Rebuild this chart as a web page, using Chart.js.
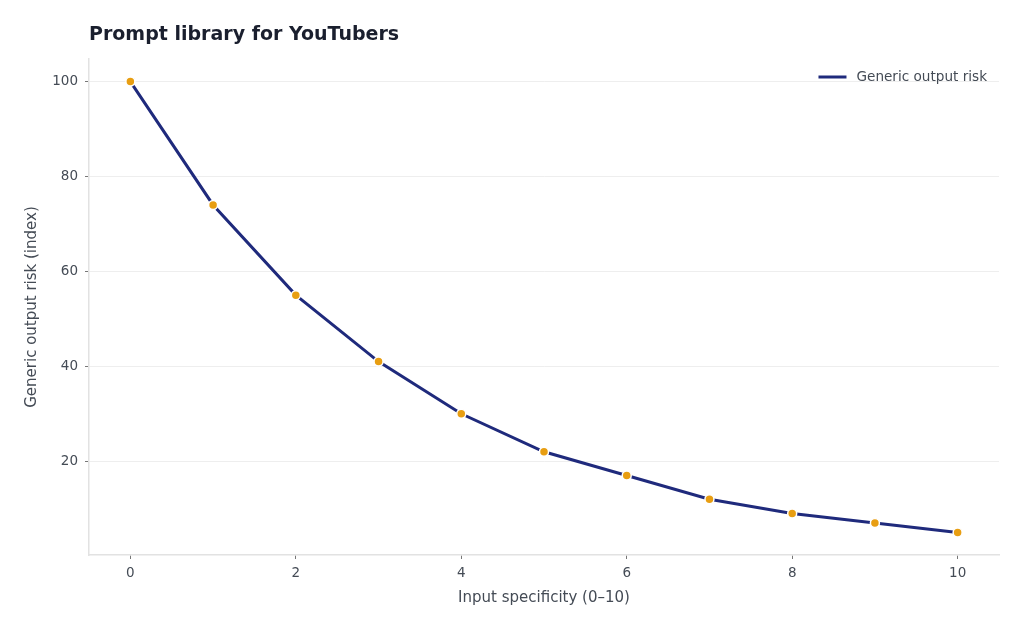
<!DOCTYPE html>
<html>
<head>
<meta charset="utf-8">
<script src="https://cdn.jsdelivr.net/npm/chart.js@4/dist/chart.umd.min.js"></script>
<style>
html,body{margin:0;padding:0;background:#fff;}
#wrap{width:1024px;height:631px;position:relative;}
</style>
</head>
<body>
<div id="wrap"><canvas id="c"></canvas></div>
<script>
const chartTitle = 'Prompt library for YouTubers';
const seriesLabel = 'Generic output risk';
const xValues = [0, 1, 2, 3, 4, 5, 6, 7, 8, 9, 10];
const riskValues = [100, 74, 55, 41, 30, 22, 17, 12, 9, 7, 5];
const xTickValues = [0, 2, 4, 6, 8, 10];
const yTickValues = [20, 40, 60, 80, 100];
const xTitle = 'Input specificity (0–10)';
const yTitle = 'Generic output risk (index)';

const FONT = "'DejaVu Sans', sans-serif";
const lineColor = '#1f2a7c';
const pointColor = '#e89e12';

const overlay = {
  id: 'overlay',
  afterDraw(chart) {
    const ctx = chart.ctx;
    const a = chart.chartArea;
    ctx.save();
    ctx.font = "bold 19px " + FONT;
    ctx.fillStyle = '#1a1f2e';
    ctx.textBaseline = 'middle';
    ctx.textAlign = 'left';
    ctx.fillText(chartTitle, a.left, 35);
    // legend
    ctx.font = "13.6px " + FONT;
    ctx.fillStyle = '#444b55';
    const tw = ctx.measureText(seriesLabel).width;
    const tx = a.right - 12 - tw;
    const ly = 77;
    ctx.fillText(seriesLabel, tx, ly);
    ctx.strokeStyle = lineColor;
    ctx.lineWidth = 3;
    ctx.beginPath();
    ctx.moveTo(tx - 38, ly);
    ctx.lineTo(tx - 10, ly);
    ctx.stroke();
    ctx.restore();
  }
};

new Chart(document.getElementById('c'), {
  type: 'line',
  data: {
    datasets: [{
      label: seriesLabel,
      data: xValues.map((x, i) => ({x: x, y: riskValues[i]})),
      borderColor: lineColor,
      borderWidth: 3,
      pointBackgroundColor: pointColor,
      pointBorderColor: '#ffffff',
      pointBorderWidth: 1.5,
      pointRadius: 4.5,
      tension: 0,
      fill: false
    }]
  },
  options: {
    responsive: true,
    maintainAspectRatio: false,
    animation: false,
    layout: {padding: {left: 0, right: 25, top: 59, bottom: 0}},
    plugins: {legend: {display: false}, title: {display: false}, tooltip: {enabled: false}},
    scales: {
      x: {
        type: 'linear',
        min: -0.5,
        max: 10.5,
        afterFit(s) { s.height = 76; },
        afterBuildTicks(s) { s.ticks = xTickValues.map(v => ({value: v})); },
        ticks: {color: '#444b55', font: {family: FONT, size: 13.5}, padding: 6},
        grid: {drawOnChartArea: false, tickLength: 4, tickColor: '#777', tickWidth: 1},
        border: {color: '#e2e2e2', width: 1.5},
        title: {display: true, text: xTitle, color: '#444b55', font: {family: FONT, size: 15}, padding: {top: 0, bottom: 24}}
      },
      y: {
        type: 'linear',
        min: 0.25,
        max: 104.75,
        afterFit(s) { s.width = 89; },
        afterBuildTicks(s) { s.ticks = yTickValues.map(v => ({value: v})); },
        ticks: {color: '#444b55', font: {family: FONT, size: 13.5}, padding: 7},
        grid: {color: '#eeeeee', lineWidth: 1, tickLength: 4, tickColor: '#777', tickWidth: 1},
        border: {color: '#e2e2e2', width: 1.5},
        title: {display: true, text: yTitle, color: '#444b55', font: {family: FONT, size: 15}, padding: {top: 23, bottom: 0}}
      }
    }
  },
  plugins: [overlay]
});
</script>
</body>
</html>
